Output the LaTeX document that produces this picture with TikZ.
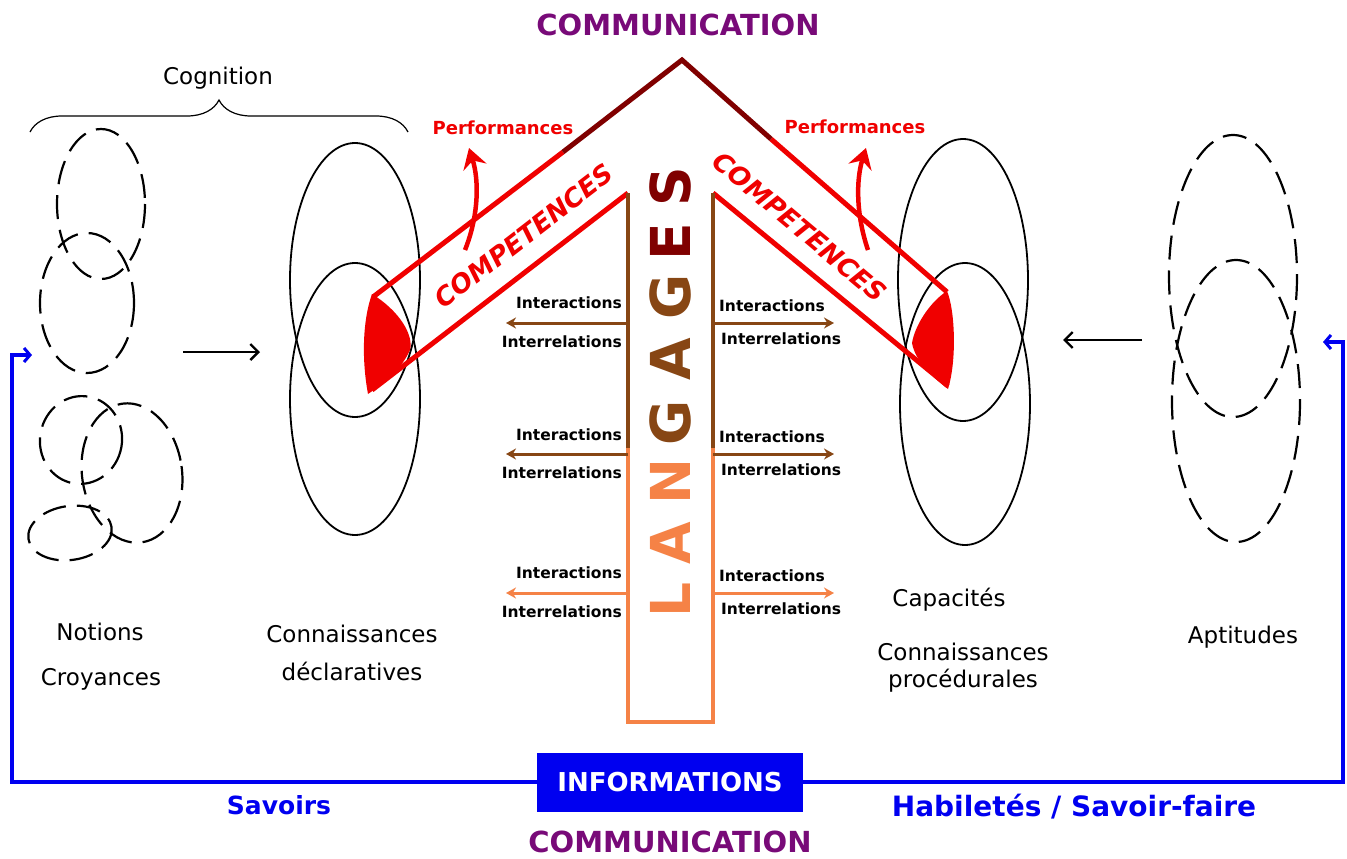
\documentclass[tikz,border=0pt]{standalone}
\usepackage{fontspec}
\setmainfont{DejaVu Sans}
\usetikzlibrary{arrows.meta,decorations.pathreplacing,calc}

\definecolor{roofred}{RGB}{128,0,0}
\definecolor{compred}{RGB}{240,0,0}
\definecolor{langbrown}{RGB}{135,70,20}
\definecolor{langorange}{RGB}{245,130,70}
\definecolor{compurple}{RGB}{120,10,120}
\definecolor{infoblue}{RGB}{0,0,240}

\newcommand{\fs}[1]{\fontsize{#1}{#1}\selectfont}

\begin{document}
\begin{tikzpicture}[x=1pt,y=-1pt,
  solidell/.style={draw=black,line width=1.8pt},
  dashell/.style={draw=black,line width=2.2pt,dash pattern=on 24pt off 11pt},
  bandline/.style={draw=compred,line width=5pt},
  roofline/.style={draw=roofred,line width=5pt,line join=miter},
  brownline/.style={draw=langbrown,line width=4pt},
  orangeline/.style={draw=langorange,line width=4pt,line join=miter},
  brownarrow/.style={draw=langbrown,line width=3pt,-{Stealth[length=10pt,width=11pt]}},
  orangearrow/.style={draw=langorange,line width=3pt,-{Stealth[length=10pt,width=11pt]}},
  perfarrow/.style={draw=compred,line width=4.5pt,-{Stealth[length=20pt,width=24pt,inset=7pt]}},
  blackarrow/.style={draw=black,line width=2.4pt,-{Straight Barb[length=8pt,width=16pt,line width=2.4pt]}},
  bluearrow/.style={draw=infoblue,line width=4pt,line join=miter,-{Straight Barb[length=6pt,width=14pt,line width=3pt]}},
  inter/.style={font=\fs{15.5}\bfseries,inner sep=0pt},
  label/.style={font=\fs{23},inner sep=0pt},
  perf/.style={font=\fs{18}\bfseries,text=compred,inner sep=0pt},
  comp/.style={font=\fs{26}\bfseries\itshape,text=compred,inner sep=0pt},
  letter/.style={font=\fs{55}\bfseries,rotate=90,inner sep=0pt},
  commu/.style={font=\fs{29}\bfseries,text=compurple,inner sep=0pt},
  bluetext/.style={text=infoblue,inner sep=0pt}
]
\useasboundingbox (0,0) rectangle (1347,859);
\fill[white] (0,0) rectangle (1347,859);

% ---- Cognition: brace and title
\draw[line width=1.2pt,decorate,decoration={brace,amplitude=32pt}] (30,132) -- (408,132);
\node[label] (cognition) at (218,78) {Cognition};

% ---- Notions / croyances: loose dashed ellipses
\draw[dashell] (101,204) ellipse [x radius=44,y radius=75];
\draw[dashell] (87,303) ellipse [x radius=47,y radius=70];
\draw[dashell,rotate around={-10:(81,440)}] (81,440) ellipse [x radius=41,y radius=44];
\draw[dashell,rotate around={8:(132,473)}] (132,473) ellipse [x radius=50,y radius=70];
\draw[dashell,rotate around={8:(70,533)}] (70,533) ellipse [x radius=42,y radius=27];

% ---- Connaissances declaratives: two overlapping solid ellipses
\draw[solidell] (355,280) ellipse [x radius=65,y radius=137];
\draw[solidell] (355,399) ellipse [x radius=65,y radius=136];

% ---- Capacites: two overlapping solid ellipses
\draw[solidell] (963,280) ellipse [x radius=65,y radius=141];
\draw[solidell] (965,404) ellipse [x radius=65,y radius=141];

% ---- Aptitudes: two overlapping dashed ellipses
\draw[dashell] (1233,276) ellipse [x radius=64,y radius=141];
\draw[dashell] (1236,401) ellipse [x radius=64,y radius=141];

% ---- Arrows between the groups
\coordinate (notA) at (183,352);
\coordinate (decA) at (260,352);
\draw[blackarrow] (notA) -- (decA);
\coordinate (aptA) at (1142,340);
\coordinate (capA) at (1063,340);
\draw[blackarrow] (aptA) -- (capA);

% ---- Roof (communication) and competence bands
\coordinate (peak) at (682,60);
\coordinate (lroof) at (563,152);
\coordinate (rroof) at (771,139);
\coordinate (lend) at (373,297);
\coordinate (rend) at (947,292);
\coordinate (ltop) at (628,193);
\coordinate (rtop) at (713,193);
\draw[bandline] (lroof) -- (lend);
\draw[bandline] (rroof) -- (rend);
\draw[bandline] (ltop) -- (372,390);
\draw[bandline] (rtop) -- (948,386);
\draw[roofline] (lroof) -- (peak) -- (rroof);

% red tips of the bands
\fill[compred] (372,294) .. controls (398,310) and (414,334) .. (410,350)
  .. controls (402,368) and (386,382) .. (368,394)
  .. controls (362,362) and (362,322) .. cycle;
\fill[compred] (947,291) .. controls (955,310) and (957,360) .. (948,389)
  .. controls (930,375) and (915,360) .. (912,343)
  .. controls (915,325) and (930,302) .. cycle;

\node[comp,rotate=37.5] (compL) at (524,236) {COMPETENCES};
\node[comp,rotate=-40] (compR) at (800,227) {COMPETENCES};

% performances
\node[perf] (perfL) at (503,128) {Performances};
\node[perf] (perfR) at (855,127) {Performances};
\coordinate (pLs) at (465,250);
\coordinate (pLe) at (469,148);
\coordinate (pRs) at (868,250);
\coordinate (pRe) at (866,148);
\draw[perfarrow] (pLs) .. controls (479,215) and (479,180) .. (pLe);
\draw[perfarrow] (pRs) .. controls (856,215) and (856,180) .. (pRe);

% ---- LANGAGES column
\draw[brownline] (ltop) -- (628,452);
\draw[brownline] (rtop) -- (713,452);
\draw[orangeline] (628,448) -- (628,722) -- (713,722) -- (713,448);

\node[letter,text=langorange] (lL) at (670,600) {L};
\node[letter,text=langorange] (lA1) at (670,543) {A};
\node[letter,text=langorange] (lN) at (670,481) {N};
\node[letter,text=langbrown] (lG1) at (670,423) {G};
\node[letter,text=langbrown] (lA2) at (670,359) {A};
\node[letter,text=langbrown] (lG2) at (670,297) {G};
\node[letter,text=roofred] (lE) at (670,242) {E};
\node[letter,text=roofred] (lS) at (670,187) {S};

% interactions / interrelations, left side
\foreach \ya/\yb/\yc/\st/\n in {303/323/342/brownarrow/1,435/454/473/brownarrow/2,573/593/612/orangearrow/3}{
  \node[inter,anchor=east] (liA\n) at (622,\ya) {Interactions};
  \node[inter,anchor=east] (liR\n) at (622,\yc) {Interrelations};
  \coordinate (lsrc\n) at (628,\yb);
  \coordinate (ldst\n) at (506,\yb);
  \draw[\st] (lsrc\n) -- (ldst\n);
}
% interactions / interrelations, right side
\foreach \ya/\yb/\yc/\st/\n in {306/323/339/brownarrow/1,437/454/470/brownarrow/2,576/593/609/orangearrow/3}{
  \node[inter,anchor=west] (riA\n) at (719,\ya) {Interactions};
  \node[inter,anchor=west] (riR\n) at (721,\yc) {Interrelations};
  \coordinate (rsrc\n) at (713,\yb);
  \coordinate (rdst\n) at (834,\yb);
  \draw[\st] (rsrc\n) -- (rdst\n);
}

% ---- Group labels
\node[label] (notions) at (100,632) {Notions};
\node[label] (croyances) at (101,679) {Croyances};
\node[label] (conn1) at (352,634) {Connaissances};
\node[label] (decl) at (352,671) {déclaratives};
\node[label] (capac) at (949,600) {Capacités};
\node[label] (conn2) at (963,652) {Connaissances};
\node[label] (proc) at (963,681) {procédurales};
\node[label] (aptit) at (1243,637) {Aptitudes};

% ---- Communication titles
\node[commu] (commTop) at (678,25) {COMMUNICATION};
\node[commu] (commBot) at (670,842) {COMMUNICATION};

% ---- Informations loop
\node[fill=infoblue,text=white,font=\fs{26}\bfseries,minimum width=266pt,minimum height=59pt,inner sep=0pt] (info) at (670,782) {INFORMATIONS};
\coordinate (blueL) at (32,355);
\coordinate (blueR) at (1323,342);
\draw[bluearrow] (info.west) -- (12,782) -- (12,355) -- (blueL);
\draw[bluearrow] (info.east) -- (1343,782) -- (1343,342) -- (blueR);

\node[bluetext,font=\fs{25}\bfseries] (savoirs) at (279,805) {Savoirs};
\node[bluetext,font=\fs{28}\bfseries] (habil) at (1074,807) {Habiletés / Savoir-faire};

\end{tikzpicture}
\end{document}
